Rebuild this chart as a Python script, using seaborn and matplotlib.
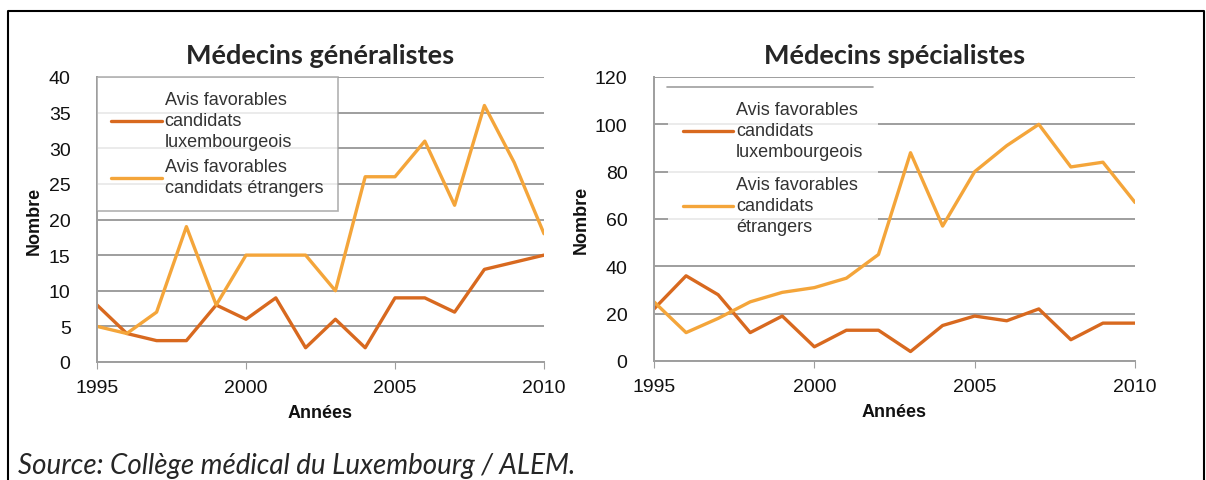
import matplotlib
matplotlib.use("Agg")
import matplotlib.pyplot as plt
import pandas as pd
import seaborn as sns

# data
years = list(range(1995, 2011))
gen_lux = [8, 4, 3, 3, 8, 6, 9, 2, 6, 2, 9, 9, 7, 13, 14, 15]
gen_etr = [5, 4, 7, 19, 8, 15, 15, 15, 10, 26, 26, 31, 22, 36, 28, 18]
spe_lux = [22, 36, 28, 12, 19, 6, 13, 13, 4, 15, 19, 17, 22, 9, 16, 16]
spe_etr = [25, 12, 18, 25, 29, 31, 35, 45, 88, 57, 80, 91, 100, 82, 84, 67]

titles = ["Médecins généralistes", "Médecins spécialistes"]
lab_lux = "Avis favorables\ncandidats\nluxembourgeois"
lab_etr_gen = "Avis favorables\ncandidats étrangers"
lab_etr_spe = "Avis favorables\ncandidats\nétrangers"
xticks = [1995, 2000, 2005, 2010]
yticks_gen = [0, 5, 10, 15, 20, 25, 30, 35, 40]
yticks_spe = [0, 20, 40, 60, 80, 100, 120]
source = "Source: Collège médical du Luxembourg / ALEM."

C_LUX = "#D8691F"
C_ETR = "#F4A53A"
GRID = "#9E9E9E"

sns.set_style("white")
plt.rcParams["font.family"] = ["Liberation Sans", "DejaVu Sans"]

fig = plt.figure(figsize=(12.06, 4.81), dpi=100)
ax1 = fig.add_axes([97 / 1206, 1 - 363 / 481, 447 / 1206, 285 / 481])
ax2 = fig.add_axes([654 / 1206, 1 - 362 / 481, 481 / 1206, 284 / 481])


def draw(ax, lux, etr, lab_etr, yticks, title):
    df = pd.DataFrame({
        "year": years * 2,
        "val": lux + etr,
        "serie": [lab_lux] * len(years) + [lab_etr] * len(years),
    })
    sns.lineplot(data=df, x="year", y="val", hue="serie",
                 palette={lab_lux: C_LUX, lab_etr: C_ETR},
                 linewidth=2.4, ax=ax, legend=True)
    ax.set_xlim(1995, 2010)
    ax.set_ylim(yticks[0], yticks[-1])
    ax.set_xticks(xticks)
    ax.set_yticks(yticks)
    ax.yaxis.grid(True, color=GRID, linewidth=1.4)
    ax.set_axisbelow(True)
    for s in ["top", "right"]:
        ax.spines[s].set_visible(False)
    for s in ["left", "bottom"]:
        ax.spines[s].set_color(GRID)
        ax.spines[s].set_linewidth(1.4)
    ax.tick_params(axis="x", length=5, color=GRID, labelsize=14,
                   labelcolor="#111111", pad=7, bottom=True)
    ax.tick_params(axis="y", length=0, labelsize=14,
                   labelcolor="#111111", pad=19)
    ax.set_xlabel("Années", fontsize=13, fontweight="bold",
                  color="#111111", labelpad=6)
    ax.set_ylabel("Nombre", fontsize=13, fontweight="bold",
                  color="#111111", labelpad=4)
    ax.set_title(title, family=["Lato", "DejaVu Sans"], fontsize=19.5,
                 fontweight="bold", pad=10)


draw(ax1, gen_lux, gen_etr, lab_etr_gen, yticks_gen, titles[0])
draw(ax2, spe_lux, spe_etr, lab_etr_spe, yticks_spe, titles[1])

# left legend: white box with grey frame over upper-left part
leg1 = ax1.legend(loc="upper left", bbox_to_anchor=(0.0, 1.0),
                  borderaxespad=0, frameon=True, fancybox=False,
                  fontsize=13, handlelength=2.8, handletextpad=0.15,
                  borderpad=0.8, labelspacing=0.45)
leg1.get_frame().set_edgecolor(GRID)
leg1.get_frame().set_linewidth(1.2)
for t in leg1.get_texts():
    t.set_color("#333333")
    t.set_linespacing(1.3)

leg2 = ax2.legend(loc="upper left", bbox_to_anchor=(0.03, 0.965),
                  borderaxespad=0, frameon=True, fancybox=False,
                  fontsize=13, handlelength=2.8, handletextpad=0.15,
                  borderpad=0.8, labelspacing=0.9)
leg2.get_frame().set_edgecolor("none")
for t in leg2.get_texts():
    t.set_color("#333333")
    t.set_linespacing(1.3)
ax2.plot([0.027, 0.455], [0.965, 0.965], transform=ax2.transAxes,
         color=GRID, linewidth=1.2, zorder=6)

# outer frame (left, top, right)
fig.add_artist(plt.Line2D([8 / 1206, 8 / 1206, 1204 / 1206, 1204 / 1206],
                          [0, 1 - 12 / 481, 1 - 12 / 481, 0],
                          color="black", linewidth=1.5,
                          transform=fig.transFigure))

fig.text(18 / 1206, 1 - 466 / 481, source, family=["Lato", "DejaVu Sans"],
         fontstyle="italic", fontsize=20, va="center", ha="left")

fig.savefig("out.png", dpi=100)
